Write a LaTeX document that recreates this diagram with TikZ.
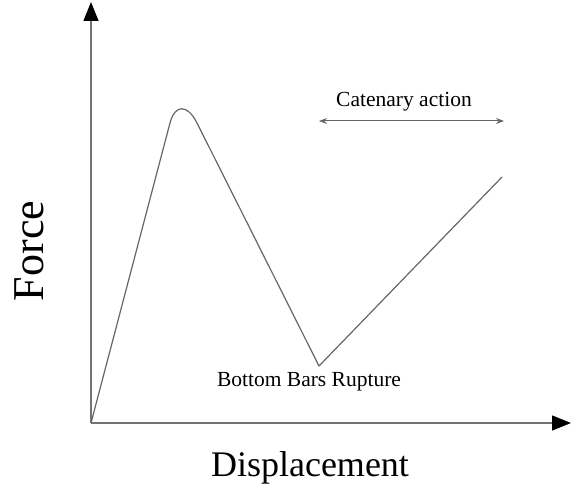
\documentclass[tikz,border=0pt]{standalone}
\usepackage{fontspec}
\setmainfont{Liberation Serif}
\usetikzlibrary{arrows.meta}
\begin{document}
\begin{tikzpicture}[x=1pt,y=-1pt,
  curve/.style={draw=black!60, line width=1.2pt, line join=round},
  axis/.style={draw=black!55, line width=1.4pt, -{Triangle[length=19pt,width=15pt,color=black]}},
  span/.style={draw=black!60, line width=1pt, {Stealth[length=8pt,width=6pt]}-{Stealth[length=8pt,width=6pt]}},
  lbl/.style={inner sep=0pt, font=\fontsize{21.5}{24}\selectfont}
]
\useasboundingbox (0,0) rectangle (571,495);
\coordinate (O) at (91,423);
\coordinate (ytip) at (91,2);
\coordinate (xtip) at (571,423);
\coordinate (pl) at (170,123);
\coordinate (pr) at (197,123);
\coordinate (m) at (319,366);
\coordinate (e) at (502,177);
\coordinate (cl) at (319,121);
\coordinate (cr) at (504,121);
\draw[axis] (O) -- (ytip);
\draw[axis] (O) -- (xtip);
\draw[curve] (O) -- (pl) .. controls (175,104) and (187.5,104) .. (pr) -- (m) -- (e);
\draw[span] (cl) -- (cr);
\node[lbl] (cat) at (404,102) {Catenary action};
\node[lbl] (rup) at (309,382) {Bottom Bars Rupture};
\node[inner sep=0pt, font=\fontsize{36}{40}\selectfont] (disp) at (310,468) {Displacement};
\node[inner sep=0pt, rotate=90, font=\fontsize{44}{48}\selectfont] (force) at (29,251) {Force};
\end{tikzpicture}
\end{document}
